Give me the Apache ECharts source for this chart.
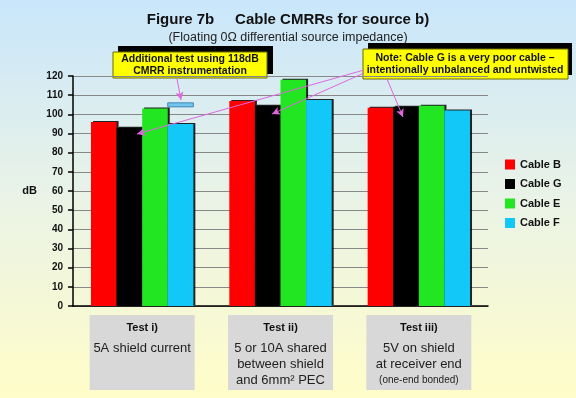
<!DOCTYPE html>
<html>
<head>
<meta charset="utf-8">
<script src="https://cdn.jsdelivr.net/npm/echarts@6/dist/echarts.min.js"></script>
<style>
  html, body { margin: 0; padding: 0; }
  #main { width: 576px; height: 398px; }
</style>
</head>
<body>
<div id="main"></div>
<script>
var categories = ['Test i)', 'Test ii)', 'Test iii)'];
var descriptions = ['5A shield current', '5 or 10A shared\nbetween shield\nand 6mm² PEC', '5V on shield\nat receiver end'];
var footnotes = ['', '', '(one-end bonded)'];
var cableB = [96, 107, 103.5];
var cableG = [93, 104.5, 104];
var cableE = [103, 118, 104.5];
var cableF = [95, 107.5, 102];
var extraTest = [[0, 106]]; // 118dB CMRR instrumentation result

var font = 'Arial, "Liberation Sans", sans-serif';
var gapRatio = 0.26;

var myChart = echarts.init(document.getElementById('main'));

var barStyle = function (color) {
  return {
    color: color,
    shadowColor: 'rgba(0,0,0,0.85)',
    shadowOffsetX: 2,
    shadowOffsetY: -1,
    shadowBlur: 0
  };
};

var arrow = function (x1, y1, x2, y2) {
  return [{ x: x1, y: y1 }, { x: x2, y: y2 }];
};

option = {
  animation: false,
  backgroundColor: {
    type: 'linear', x: 0, y: 0, x2: 0, y2: 1,
    colorStops: [
      { offset: 0, color: '#c9e6fb' },
      { offset: 0.5, color: '#eaf3e6' },
      { offset: 1, color: '#fffdc8' }
    ]
  },
  title: [
    {
      text: 'Figure 7b     Cable CMRRs for source b)',
      left: 'center',
      top: 7,
      textStyle: { fontFamily: font, fontSize: 15, fontWeight: 'bold', color: '#111' }
    },
    {
      text: '(Floating 0Ω differential source impedance)',
      left: 'center',
      top: 26,
      textStyle: { fontFamily: font, fontSize: 12.5, fontWeight: 'normal', color: '#222' }
    }
  ],
  legend: {
    data: ['Cable B', 'Cable G', 'Cable E', 'Cable F'],
    orient: 'vertical',
    left: 500,
    top: 154,
    itemWidth: 10,
    itemHeight: 10,
    itemGap: 8.5,
    icon: 'rect',
    textStyle: { fontFamily: font, fontSize: 11, fontWeight: 'bold', color: '#111' }
  },
  grid: { left: 73, right: 88, top: 76, bottom: 92 },
  xAxis: {
    type: 'category',
    data: categories,
    axisLine: { lineStyle: { color: '#000', width: 1.5 } },
    axisTick: { length: 5, lineStyle: { color: '#000', width: 1.5 } },
    axisLabel: {
      margin: 9,
      interval: 0,
      width: 105,
      height: 73,
      padding: [1, 0, 1, 0],
      backgroundColor: '#d8d8d8',
      align: 'center',
      verticalAlign: 'top',
      formatter: function (value, idx) {
        var s = '{t|' + value + '}\n{d|' + descriptions[idx] + '}';
        if (footnotes[idx]) s += '\n{f|' + footnotes[idx] + '}';
        return s;
      },
      rich: {
        t: { fontFamily: font, fontSize: 11, fontWeight: 'bold', color: '#111', lineHeight: 24, width: 105, align: 'center' },
        d: { fontFamily: font, fontSize: 13, color: '#222', lineHeight: 16, width: 105, align: 'center' },
        f: { fontFamily: font, fontSize: 10, color: '#222', lineHeight: 16, width: 105, align: 'center' }
      }
    }
  },
  yAxis: {
    type: 'value',
    min: 0,
    max: 120,
    interval: 10,
    name: 'dB',
    nameLocation: 'middle',
    nameGap: 36,
    nameRotate: 0,
    nameTextStyle: { fontFamily: font, fontSize: 11, fontWeight: 'bold', color: '#111' },
    axisLine: { show: true, lineStyle: { color: '#000', width: 1.5 } },
    axisTick: { show: true, length: 5, lineStyle: { color: '#000', width: 1.5 } },
    axisLabel: { margin: 10, fontFamily: font, fontSize: 10, fontWeight: 'bold', color: '#111' },
    splitLine: { lineStyle: { color: '#888', width: 1 } }
  },
  graphic: [
    { type: 'rect', shape: { x: 118, y: 46, width: 155, height: 28 }, style: { fill: '#000' } },
    { type: 'rect', shape: { x: 113, y: 52, width: 154, height: 26 }, style: { fill: '#ffff00', stroke: '#6b6b00', lineWidth: 1 } },
    {
      type: 'text', x: 190, y: 65,
      style: {
        text: 'Additional test using 118dB\nCMRR instrumentation',
        fill: '#111', font: 'bold 10.5px ' + font,
        align: 'center', verticalAlign: 'middle', lineHeight: 12
      }
    },
    { type: 'rect', shape: { x: 368, y: 43, width: 204, height: 32 }, style: { fill: '#000' } },
    { type: 'rect', shape: { x: 363, y: 49, width: 205, height: 30 }, style: { fill: '#ffff00', stroke: '#6b6b00', lineWidth: 1 } },
    {
      type: 'text', x: 465, y: 64,
      style: {
        text: 'Note: Cable G is a very poor cable –\nintentionally unbalanced and untwisted',
        fill: '#111', font: 'bold 10.5px ' + font,
        align: 'center', verticalAlign: 'middle', lineHeight: 11.5
      }
    }
  ],
  series: [
    {
      name: 'Cable B',
      type: 'bar',
      barGap: '0%',
      barCategoryGap: (gapRatio * 100) + '%',
      itemStyle: barStyle('#ff0000'),
      data: cableB
    },
    {
      name: 'Cable G',
      type: 'bar',
      itemStyle: barStyle('#000000'),
      data: cableG
    },
    {
      name: 'Cable E',
      type: 'bar',
      itemStyle: barStyle('#22e622'),
      data: cableE
    },
    {
      name: 'Cable F',
      type: 'bar',
      itemStyle: barStyle('#11c8f8'),
      data: cableF,
      markLine: {
        silent: true,
        symbol: ['none', 'arrow'],
        symbolSize: [6, 8],
        label: { show: false },
        lineStyle: { color: '#e066e0', width: 1, type: 'solid' },
        data: [
          arrow(177, 79, 181, 100),
          arrow(364, 70, 137, 134),
          arrow(364, 73, 272, 114),
          arrow(387, 79, 403, 117)
        ]
      }
    },
    {
      name: 'Additional test',
      type: 'custom',
      data: extraTest,
      renderItem: function (params, api) {
        var c = api.coord([api.value(0), api.value(1)]);
        var band = api.size([1, 0])[0];
        var bw = band * (1 - gapRatio) / 4;
        return {
          type: 'rect',
          shape: { x: c[0] + bw, y: c[1], width: bw, height: 4 },
          style: { fill: '#74c6ee', stroke: '#3f86b8', lineWidth: 1 }
        };
      }
    }
  ]
};

myChart.setOption(option);
</script>
</body>
</html>
